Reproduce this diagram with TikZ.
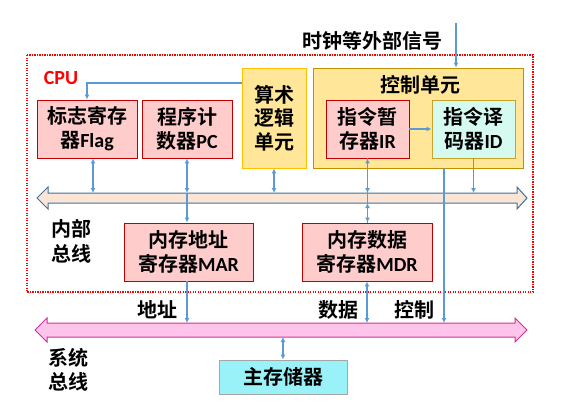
\documentclass[tikz,border=0pt]{standalone}
\usepackage{fontspec}
\setmainfont{Noto Sans CJK SC}[BoldFont={Noto Sans CJK SC Bold}]
\newfontfamily\latfont{Carlito}[BoldFont={Carlito Bold}]
\newcommand\latx[1]{{\latfont\bfseries #1}}
\usetikzlibrary{arrows.meta}
\definecolor{regred}{HTML}{C00000}
\definecolor{regpink}{HTML}{FFCCCC}
\definecolor{alufill}{HTML}{FFE699}
\definecolor{aluline}{HTML}{FFC000}
\definecolor{ctrlline}{HTML}{BF9000}
\definecolor{idfill}{HTML}{D5FAF0}
\definecolor{idline}{HTML}{C9A227}
\definecolor{ibusfill}{HTML}{FBE5D6}
\definecolor{ibusline}{HTML}{41719C}
\definecolor{sbusfill}{HTML}{FFC4EA}
\definecolor{sbusline}{HTML}{CC3399}
\definecolor{memfill}{HTML}{99F2F8}
\definecolor{memline}{HTML}{A6A6A6}
\definecolor{arrblue}{HTML}{5B9BD5}
\begin{document}
\begin{tikzpicture}[x=1pt,y=-1pt,
  txt/.style={font=\bfseries\fontsize{20}{24}\selectfont, align=center, inner sep=0pt},
  box/.style={txt, line width=0.9pt},
  regbox/.style={box, draw=regred, fill=regpink},
  conn/.style={draw=arrblue, line width=1.1pt},
  >={Latex[length=5pt,width=5pt]}]
\useasboundingbox (0,0) rectangle (565,416);

% CPU frame
\draw[red, line width=1.2pt, dash pattern=on 1.2pt off 1.3pt] (27,55) rectangle (533,292);
\node[text=red, font=\latfont\bfseries\fontsize{20}{20}\selectfont, inner sep=0pt] (cpu) at (61,78) {CPU};

% title
\node[txt] (ext) at (372,41) {时钟等外部信号};

% boxes
\node[regbox, minimum width=100pt, minimum height=58pt] (flag) at (87,129) {标志寄存\\器\latx{Flag}};
\node[regbox, minimum width=90pt, minimum height=58pt] (pc) at (187,129) {程序计\\数器\latx{PC}};
\node[box, draw=aluline, fill=alufill, minimum width=64pt, minimum height=100pt, font=\bfseries\fontsize{20}{23.5}\selectfont] (alu) at (274,118) {算术\\逻辑\\单元};
\node[box, draw=ctrlline, fill=alufill, minimum width=210pt, minimum height=100pt] (ctrl) at (418,118) {};
\node[txt] (ctitle) at (420,85) {控制单元};
\node[regbox, minimum width=83pt, minimum height=58pt] (ir) at (367.5,129) {指令暂\\存器\latx{IR}};
\node[box, draw=idline, fill=idfill, minimum width=83pt, minimum height=58pt] (id) at (473.5,129) {指令译\\码器\latx{ID}};
\node[regbox, minimum width=129pt, minimum height=58pt] (mar) at (188.5,252) {内存地址\\寄存器\latx{MAR}};
\node[regbox, minimum width=130pt, minimum height=58pt] (mdr) at (367,252) {内存数据\\寄存器\latx{MDR}};
\node[box, draw=memline, fill=memfill, minimum width=128pt, minimum height=34pt] (mem) at (283,377) {主存储器};

% internal bus
\draw[draw=ibusline, fill=ibusfill, line width=1pt, line join=miter]
  (37,198) -- (48,187) -- (48,193) -- (517,193) -- (517,187) -- (527,198)
  -- (517,209) -- (517,203) -- (48,203) -- (48,209) -- cycle;
\coordinate (ibt) at (282,193);
\coordinate (ibb) at (282,203);
% system bus
\draw[draw=sbusline, fill=sbusfill, line width=1pt, line join=miter]
  (35,330) -- (47,318) -- (47,323) -- (515,323) -- (515,318) -- (527,330)
  -- (515,342) -- (515,337) -- (47,337) -- (47,342) -- cycle;
\coordinate (sbt) at (282,323);
\coordinate (sbb) at (282,337);

% labels
\node[txt, font=\bfseries\fontsize{20}{25}\selectfont] (ilab) at (71,241) {内部\\总线};
\node[txt] (slab) at (68,370) {系统\\总线};
\node[txt] (laddr) at (157,310) {地址};
\node[txt] (ldata) at (338,310) {数据};
\node[txt] (lctrl) at (414,310) {控制};

% connectors
\coordinate (extsrc) at (456,23);
\draw[conn,->] (extsrc) -- (extsrc |- ctrl.north);
\draw[conn,->] ([yshift=35pt]alu.west) -| (flag.north);
\draw[conn,->] (ir.east) -- (id.west);
\draw[conn,<->] ([xshift=6pt]flag.south) -- ([xshift=6pt]flag.south |- ibt);
\draw[conn,<->] (pc.south) -- (pc.south |- ibt);
\draw[conn,->] (pc.south |- ibt) -- (pc.south |- mar.north);
\draw[conn,<->] (alu.south) -- (alu.south |- ibt);
\draw[conn] (ir.south) -- (ir.south |- mdr.north);
\draw[conn,<->] (ir.south) -- (ir.south |- ibt);
\draw[conn,<->] (ir.south |- ibb) -- (ir.south |- mdr.north);
\draw[conn,->] (id.south) -- (id.south |- ibt);
\draw[conn,->] ([xshift=26pt]ctrl.south) -- ([xshift=26pt]ctrl.south |- sbt);
\draw[conn,->] (pc.south |- mar.south) -- (pc.south |- sbt);
\draw[conn,<->] (mdr.south) -- (mdr.south |- sbt);
\draw[conn,<->] (mem.north |- sbb) -- (mem.north);
\end{tikzpicture}
\end{document}
